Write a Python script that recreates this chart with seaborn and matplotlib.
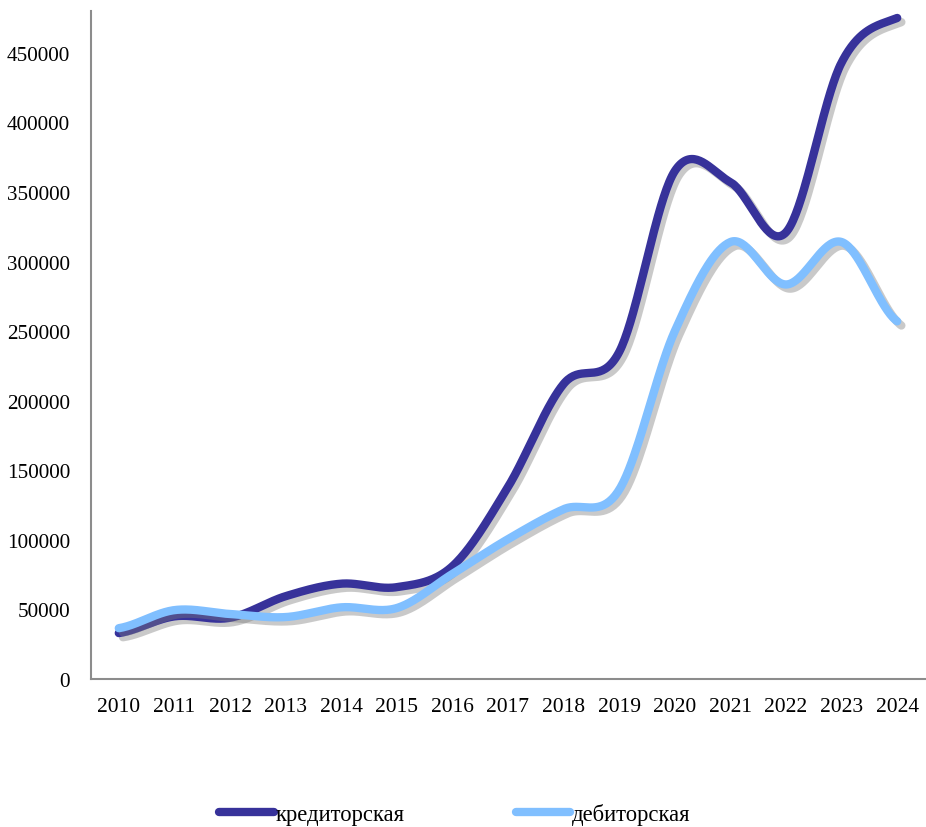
import numpy as np
import pandas as pd
import matplotlib
matplotlib.use("Agg")
import matplotlib.pyplot as plt
import matplotlib.patheffects as pe
from matplotlib.lines import Line2D
import seaborn as sns

years = ["2010", "2011", "2012", "2013", "2014", "2015", "2016", "2017",
         "2018", "2019", "2020", "2021", "2022", "2023", "2024"]
kredit = [33000, 45000, 44000, 59500, 68500, 66000, 81000, 138000,
          212000, 235000, 365000, 357000, 321000, 443000, 475000]
debit = [36500, 49500, 46700, 44500, 51500, 51000, 75500, 100500,
         122000, 136000, 250000, 314000, 283500, 314000, 257000]
series_names = ["кредиторская", "дебиторская"]
colors = {"кредиторская": "#37329A", "дебиторская": "#80BFFF"}
yticks = list(range(0, 450001, 50000))


def catmull_rom(vals, n=40):
    v = np.asarray(vals, dtype=float)
    p = np.concatenate([[v[0]], v, [v[-1]]])
    xs, ys = [], []
    for i in range(len(v) - 1):
        p0, p1, p2, p3 = p[i], p[i + 1], p[i + 2], p[i + 3]
        t = np.linspace(0, 1, n, endpoint=False)
        y = 0.5 * ((2 * p1) + (-p0 + p2) * t + (2 * p0 - 5 * p1 + 4 * p2 - p3) * t ** 2
                   + (-p0 + 3 * p1 - 3 * p2 + p3) * t ** 3)
        xs.append(i + t)
        ys.append(y)
    xs.append([len(v) - 1])
    ys.append([v[-1]])
    return np.concatenate(xs), np.concatenate(ys)


sns.set_style("white")
plt.rcParams["font.family"] = ["Liberation Serif", "DejaVu Serif"]
plt.rcParams["text.color"] = "black"
plt.rcParams["xtick.labelcolor"] = "black"
plt.rcParams["ytick.labelcolor"] = "black"

fig = plt.figure(figsize=(9.26, 8.28), dpi=100)
ax = fig.add_axes([91 / 926, (828 - 680) / 828, (925 - 91) / 926, (680 - 12) / 828])

for name, vals in zip(series_names, [kredit, debit]):
    xs, ys = catmull_rom(vals)
    df = pd.DataFrame({"x": xs, "y": ys})
    sns.lineplot(data=df, x="x", y="y", ax=ax, color=colors[name], linewidth=6,
                 label=name, legend=False, sort=False)

for ln in ax.lines:
    ln.set_solid_capstyle("round")
    ln.set_path_effects([pe.SimpleLineShadow(offset=(3, -3), shadow_color="#7a7a7a", alpha=0.4),
                         pe.Normal()])

ax.set_xlim(-0.5, len(years) - 0.5)
ax.set_ylim(0, 480000)
ax.set_yticks(yticks)
ax.set_yticklabels([str(v) for v in yticks])
ax.set_xticks(np.arange(-0.5, len(years), 1.0))
ax.set_xticklabels([])
ax.set_xticks(np.arange(len(years)), minor=True)
ax.set_xticklabels(years, minor=True)
ax.tick_params(axis="x", which="minor", length=0, labelsize=15.5, pad=13)
ax.tick_params(axis="x", which="major", length=5, width=1.3, color="#8c8c8c", direction="out")
ax.tick_params(axis="y", length=5, width=1.3, color="#8c8c8c", direction="out", labelsize=15.2, pad=10)
ax.set_xlabel("")
ax.set_ylabel("")
for s in ["top", "right"]:
    ax.spines[s].set_visible(False)
for s in ["left", "bottom"]:
    ax.spines[s].set_color("#8c8c8c")
    ax.spines[s].set_linewidth(1.5)

handles = [Line2D([0], [0], color=colors[n], linewidth=6, solid_capstyle="round") for n in series_names]
fig.legend(handles, series_names, loc="center", bbox_to_anchor=(455 / 926, 13 / 828), ncol=2,
           frameon=False, fontsize=16.3, handlelength=2.4, handletextpad=0.1, columnspacing=4.9)

fig.savefig("out.png", dpi=100)
